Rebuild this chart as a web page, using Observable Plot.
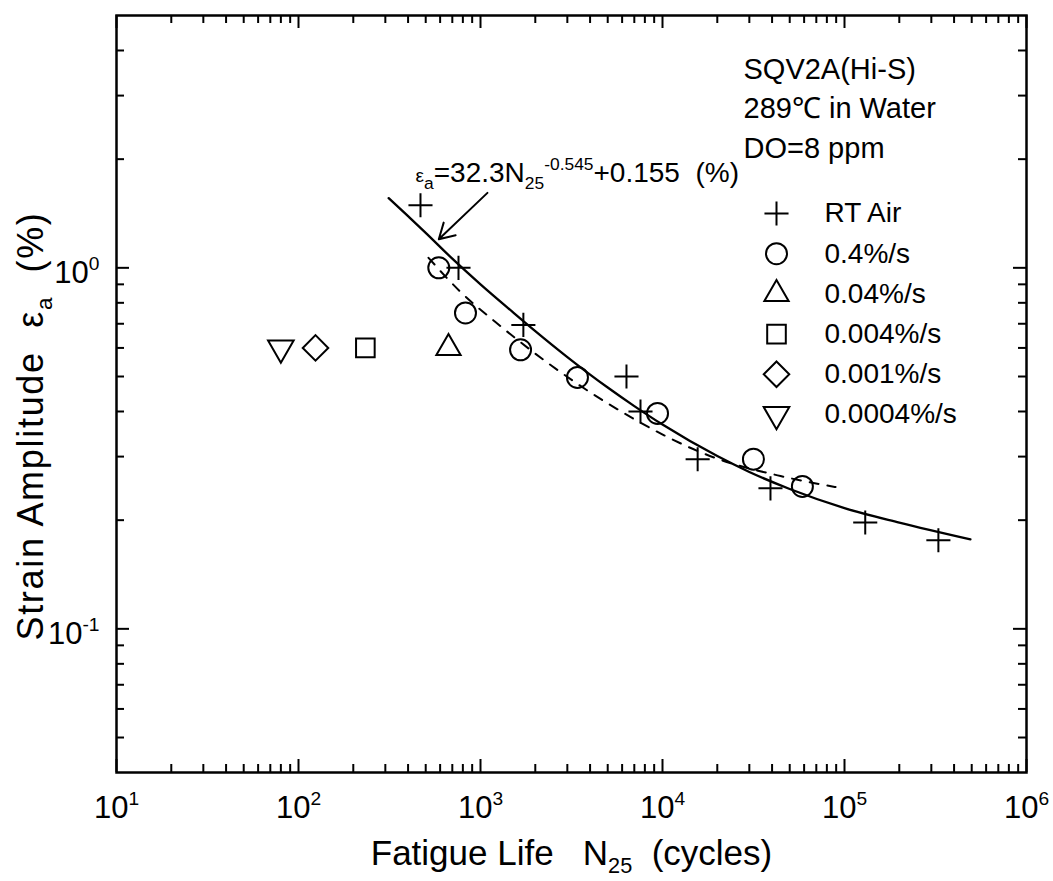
<!DOCTYPE html>
<html><head><meta charset="utf-8">
<script src="https://cdn.jsdelivr.net/npm/d3@7"></script>
<script src="https://cdn.jsdelivr.net/npm/@observablehq/plot@0.6"></script>
<style>body{margin:0;background:#fff}</style>
</head><body><div id="chart"></div>
<script>
// ---------- data ----------
const xMajorTicks = [10, 100, 1000, 10000, 100000, 1000000];
const xTickLabels = ["10^{1}", "10^{2}", "10^{3}", "10^{4}", "10^{5}", "10^{6}"];
const yMajorTicks = [0.1, 1];
const yTickLabels = ["10^{-1}", "10^{0}"];
const xMinorTicks = [20,30,40,50,60,70,80,90, 200,300,400,500,600,700,800,900,
  2000,3000,4000,5000,6000,7000,8000,9000, 20000,30000,40000,50000,60000,70000,80000,90000,
  200000,300000,400000,500000,600000,700000,800000,900000];
const yMinorTicks = [0.05,0.06,0.07,0.08,0.09, 0.2,0.3,0.4,0.5,0.6,0.7,0.8,0.9, 2,3,4];

const seriesNames = ["RT Air", "0.4%/s", "0.04%/s", "0.004%/s", "0.001%/s", "0.0004%/s"];
const rtAirN   = [468, 757, 1720, 6340, 7570, 15600, 39200, 130000, 328000];
const rtAirEps = [1.49, 1.0, 0.695, 0.5, 0.4, 0.295, 0.245, 0.197, 0.176];
const r04N     = [590, 827, 1660, 3410, 9390, 31600, 58700];
const r04Eps   = [1.0, 0.75, 0.593, 0.497, 0.395, 0.295, 0.248];
const r004N    = [667];   const r004Eps   = [0.6];
const r0004N   = [233];   const r0004Eps  = [0.6];
const r0001N   = [124];   const r0001Eps  = [0.6];
const r00004N  = [80];    const r00004Eps = [0.6];

// fitted curve (solid) and dashed trend
const fitN   = [313, 400, 500, 700, 1000, 1500, 2000, 3000, 5000, 7000, 10000, 20000, 30000, 50000, 100000, 200000, 492000];
const fitEps = [1.56, 1.39, 1.25, 1.06, 0.90, 0.755, 0.668, 0.566, 0.466, 0.414, 0.368, 0.301, 0.272, 0.244, 0.216, 0.197, 0.177];
const dashN   = [518, 776, 1208, 4860, 20800, 44500, 89300];
const dashEps = [1.066, 0.858, 0.708, 0.425, 0.294, 0.265, 0.247];

const legendTitle = ["SQV2A(Hi-S)", "289\u2103 in Water", "DO=8 ppm"];
const fitLabel = "~{\u03b5}_{a}=32.3N_{25}^{-0.545}+0.155\u00a0\u00a0(%)";
const fitLabelAt = [{N: 440, eps: 1.83}];
const fitArrow = [{N1: 1092, eps1: 1.613, N2: 590, eps2: 1.2}];
const xLabel = "Fatigue Life\u00a0\u00a0\u00a0N_{25}\u00a0\u00a0(cycles)";
const yLabel = "Strain Amplitude\u00a0\u00a0\u03b5_{a}\u00a0\u00a0(%)";

// ---------- build ----------
const seriesN = [rtAirN, r04N, r004N, r0004N, r0001N, r00004N];
const seriesEps = [rtAirEps, r04Eps, r004Eps, r0004Eps, r0001Eps, r00004Eps];
const points = seriesNames.flatMap((name, s) => seriesN[s].map((N, i) => ({name, N, eps: seriesEps[s][i]})));
const fit = fitN.map((N, i) => ({N, eps: fitEps[i]}));
const dash = dashN.map((N, i) => ({N, eps: dashEps[i]}));

const triangleDown = {
  draw(context, size) {
    const h = Math.sqrt(size / (3 * Math.sqrt(3)));
    context.moveTo(0, 2 * h);
    context.lineTo(Math.sqrt(3) * h, -h);
    context.lineTo(-Math.sqrt(3) * h, -h);
    context.closePath();
  }
};
const symbolStyle = {
  "RT Air": {symbol: "plus", r: 7.8},
  "0.4%/s": {symbol: "circle", r: 10.5},
  "0.04%/s": {symbol: "triangle", r: 9},
  "0.004%/s": {symbol: "square", r: 10.5},
  "0.001%/s": {symbol: "diamond2", r: 11.5},
  "0.0004%/s": {symbol: triangleDown, r: 9.5}
};

const W = 1053, H = 881, mL = 116, mR = 27, mT = 15, mB = 109;
const pw = W - mL - mR, ph = H - mT - mB;
const major = 13, minor = 8;
const tickStyle = {stroke: "black", strokeWidth: 2};

const marks = [
  // ticks (inward, all four sides)
  Plot.tickX(xMajorTicks, {x: d => d, insetTop: ph - major, ...tickStyle}),
  Plot.tickX(xMajorTicks, {x: d => d, insetBottom: ph - major, ...tickStyle}),
  Plot.tickX(xMinorTicks, {x: d => d, insetTop: ph - minor, ...tickStyle}),
  Plot.tickX(xMinorTicks, {x: d => d, insetBottom: ph - minor, ...tickStyle}),
  Plot.tickY(yMajorTicks, {y: d => d, insetRight: pw - major, ...tickStyle}),
  Plot.tickY(yMajorTicks, {y: d => d, insetLeft: pw - major, ...tickStyle}),
  Plot.tickY(yMinorTicks, {y: d => d, insetRight: pw - minor, ...tickStyle}),
  Plot.tickY(yMinorTicks, {y: d => d, insetLeft: pw - minor, ...tickStyle}),
  Plot.frame({stroke: "black", strokeWidth: 2.5}),
  // tick labels
  Plot.text(xMajorTicks, {x: d => d, text: (d, i) => xTickLabels[i], frameAnchor: "bottom", lineAnchor: "middle", dy: 36, fontSize: 31}),
  Plot.text(yMajorTicks, {y: d => d, text: (d, i) => yTickLabels[i], frameAnchor: "left", textAnchor: "end", lineAnchor: "middle", dx: -17, dy: 5, fontSize: 31}),
  // axis labels
  Plot.text([xLabel], {text: d => d, frameAnchor: "bottom", lineAnchor: "middle", dy: 81, fontSize: 35}),
  Plot.text([yLabel], {text: d => d, frameAnchor: "left", textAnchor: "middle", lineAnchor: "middle", rotate: -90, dx: -85, dy: 32, fontSize: 36}),
  // curves
  Plot.line(fit, {x: "N", y: "eps", curve: "monotone-x", stroke: "black", strokeWidth: 2.3}),
  Plot.line(dash, {x: "N", y: "eps", curve: "monotone-x", stroke: "black", strokeWidth: 2, strokeDasharray: "9,9"}),
  // points
  ...seriesNames.map(name => Plot.dot(points.filter(d => d.name === name), {
    x: "N", y: "eps", symbol: symbolStyle[name].symbol, r: symbolStyle[name].r,
    fill: "none", stroke: "black", strokeWidth: 2
  })),
  // annotation
  Plot.text(fitLabelAt, {x: "N", y: "eps", text: () => fitLabel, textAnchor: "start", lineAnchor: "middle", fontSize: 28}),
  Plot.arrow(fitArrow, {x1: "N1", y1: "eps1", x2: "N2", y2: "eps2", stroke: "black", strokeWidth: 2, headLength: 13}),
  // legend header
  ...legendTitle.map((t, i) => Plot.text([t], {text: d => d, frameAnchor: "top-left", textAnchor: "start", lineAnchor: "middle", dx: 627, dy: 54 + 39.5 * i, fontSize: 29})),
  // legend entries
  ...seriesNames.map((name, i) => Plot.dot([name], {frameAnchor: "top-left", dx: 660, dy: 198 + 40.2 * i,
    symbol: symbolStyle[name].symbol, r: symbolStyle[name].r, fill: "none", stroke: "black", strokeWidth: 2})),
  ...seriesNames.map((name, i) => Plot.text([name], {text: d => d, frameAnchor: "top-left", textAnchor: "start", lineAnchor: "middle", dx: 708, dy: 198 + 40.2 * i, fontSize: 28}))
];

const chart = Plot.plot({
  width: W, height: H,
  marginLeft: mL, marginRight: mR, marginTop: mT, marginBottom: mB,
  x: {type: "log", domain: [10, 1e6], axis: null},
  y: {type: "log", domain: [0.04, 5], axis: null},
  style: {fontFamily: "'Liberation Sans', Arial, Helvetica, sans-serif", background: "white", color: "black", overflow: "visible"},
  marks
});
document.getElementById("chart").appendChild(chart);

// rich text: ^{sup}, _{sub}, ~{small}
d3.select(chart).selectAll("text").each(function() {
  const el = this;
  if (el.querySelector("tspan")) return;
  const s = el.textContent;
  if (s.startsWith("Strain")) el.setAttribute("letter-spacing", "1.7");
  if (!/[\^_~]\{/.test(s)) return;
  const fs = parseFloat(getComputedStyle(el).fontSize);
  el.textContent = "";
  const re = /([\^_~])\{([^}]*)\}|([^\^_~]+)/g;
  let m, off = 0;
  while ((m = re.exec(s))) {
    let t = 0, size = null, str;
    if (m[1]) {
      str = m[2];
      if (m[1] === "^") { t = -0.42 * fs; size = 0.62 * fs; }
      else if (m[1] === "_") { t = 0.24 * fs; size = 0.62 * fs; }
      else { t = 0; size = 0.68 * fs; }
    } else str = m[3];
    const ts = document.createElementNS("http://www.w3.org/2000/svg", "tspan");
    ts.textContent = str;
    if (t - off !== 0) ts.setAttribute("dy", (t - off).toFixed(2));
    if (size) ts.setAttribute("font-size", size.toFixed(1));
    off = t;
    el.appendChild(ts);
  }
});
</script>
</body></html>
